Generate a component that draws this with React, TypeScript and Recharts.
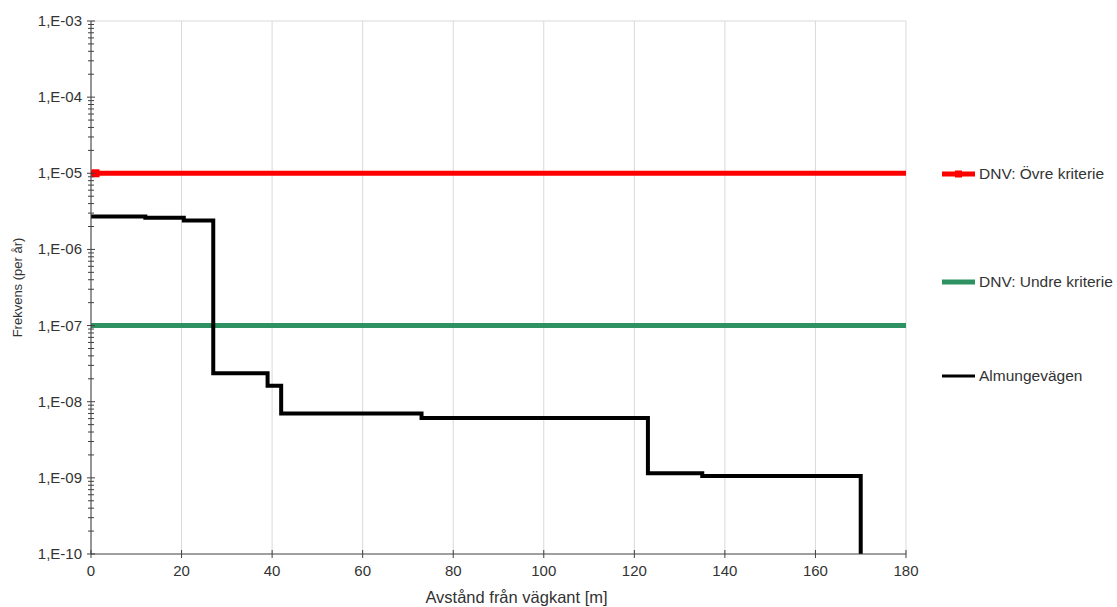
import { LineChart, Line, XAxis, YAxis, CartesianGrid, Legend, ReferenceLine } from "recharts";

// distance from road edge [m] and yearly frequency for the step curve
const stepX = [0, 12, 20.5, 27, 39, 42, 73, 123, 135, 170];
const stepY = [2.7e-6, 2.6e-6, 2.4e-6, 2.36e-8, 1.62e-8, 7.0e-9, 6.1e-9, 1.15e-9, 1.06e-9, 1e-10];

const upperX = [0, 1, 180];
const upperY = [1e-5, 1e-5, 1e-5];

const lowerX = [0, 180];
const lowerY = [1e-7, 1e-7];

const seriesNames = ["DNV: Övre kriterie", "DNV: Undre kriterie", "Almungevägen"];

const xTicks = [0, 20, 40, 60, 80, 100, 120, 140, 160, 180];
const yDecades = [1e-10, 1e-9, 1e-8, 1e-7, 1e-6, 1e-5, 1e-4, 1e-3];
const minorSteps = [2, 3, 4, 5, 6, 7, 8, 9];

const yTicks = [
  ...yDecades,
  ...yDecades.slice(0, -1).flatMap((d) => minorSteps.map((m) => m * d)),
].sort((a, b) => a - b);

const zip = (xs: number[], ys: number[]) => xs.map((x, i) => ({ x, y: ys[i] }));
const stepData = zip(stepX, stepY);
const upperData = zip(upperX, upperY);
const lowerData = zip(lowerX, lowerY);

const FONT = "'Liberation Sans', Arial, sans-serif";
const RED = "#ff0000";
const GREEN = "#2e9162";

const isDecade = (v: number) => yDecades.some((d) => Math.abs(d - v) / d < 1e-6);
const fmtSci = (v: number) => `1,E-${String(Math.round(-Math.log10(v))).padStart(2, "0")}`;

const YTick = ({ x, y, payload }: any) => {
  const major = isDecade(payload.value);
  return (
    <g>
      <line x1={x - (major ? 4 : 3)} x2={x + (major ? 4 : 3)} y1={y} y2={y} stroke="#404040" />
      {major && (
        <text x={x - 9} y={y + 5} textAnchor="end" fontSize={15} fill="#333" fontFamily={FONT}>
          {fmtSci(payload.value)}
        </text>
      )}
    </g>
  );
};

const XTick = ({ x, y, payload }: any) => (
  <g>
    <line x1={x} x2={x} y1={y - 4} y2={y + 4} stroke="#404040" />
    <text x={x} y={y + 22} textAnchor="middle" fontSize={15} fill="#333" fontFamily={FONT}>
      {payload.value}
    </text>
  </g>
);

const YLabel = ({ viewBox }: any) => {
  const cx = viewBox.x + 17;
  const cy = viewBox.y + viewBox.height / 2;
  return (
    <text x={cx} y={cy} transform={`rotate(-90 ${cx} ${cy})`} textAnchor="middle" dominantBaseline="central" fontSize={13} fill="#333" fontFamily={FONT}>
      Frekvens (per år)
    </text>
  );
};

const XLabel = ({ viewBox }: any) => (
  <text x={viewBox.x + viewBox.width / 2 + 18} y={viewBox.y + 49} textAnchor="middle" fontSize={16.5} fill="#333" fontFamily={FONT}>
    Avstånd från vägkant [m]
  </text>
);

const legendGaps = [0, 88, 74];

const LegendBox = ({ payload }: any) => {
  const items = [...(payload || [])].sort((a: any, b: any) => seriesNames.indexOf(a.value) - seriesNames.indexOf(b.value));
  return (
    <div style={{ fontFamily: FONT, fontSize: 15.5, color: "#333" }}>
      {items.map((p: any, i: number) => (
        <div key={p.value} style={{ height: 20, marginTop: legendGaps[i] ?? 0, display: "flex", alignItems: "center", whiteSpace: "nowrap" }}>
          <svg width={36} height={20}>
            <line x1={2} x2={35} y1={10} y2={10} stroke={p.color} strokeWidth={i === 2 ? 3 : 5} />
            {i === 0 && <rect x={15} y={6.5} width={7} height={7} fill={p.color} />}
          </svg>
          <span style={{ marginLeft: 3 }}>{p.value}</span>
        </div>
      ))}
    </div>
  );
};

const SquareDot = ({ cx, cy, index }: any) =>
  index === 1 ? <rect key={index} x={cx - 4} y={cy - 4} width={8} height={8} fill={RED} /> : <g key={index} />;

export default function App() {
  return (
    <div style={{ position: "absolute", left: 0, top: 0, background: "#fff" }}>
      <LineChart width={1117} height={607} margin={{ top: 21, right: 34, bottom: 0, left: 0 }}>
        <CartesianGrid horizontal={false} stroke="#d9d9d9" />
        <ReferenceLine y={1e-3} stroke="#d9d9d9" />
        <XAxis
          type="number"
          dataKey="x"
          domain={[0, 180]}
          ticks={xTicks}
          interval={0}
          height={53}
          tickSize={0}
          tickMargin={0}
          tick={<XTick />}
          stroke="#404040"
          label={<XLabel />}
        />
        <YAxis
          type="number"
          dataKey="y"
          scale="log"
          domain={[1e-10, 1e-3]}
          allowDataOverflow
          ticks={yTicks}
          interval={0}
          width={91}
          tickSize={0}
          tickMargin={0}
          tick={<YTick />}
          stroke="#404040"
          label={<YLabel />}
        />
        <Legend
          layout="vertical"
          align="right"
          verticalAlign="top"
          content={<LegendBox />}
          wrapperStyle={{ position: "absolute", left: 940, top: 164, width: 177 }}
        />
        <Line data={upperData} dataKey="y" name={seriesNames[0]} stroke={RED} strokeWidth={5} dot={<SquareDot />} isAnimationActive={false} />
        <Line data={lowerData} dataKey="y" name={seriesNames[1]} stroke={GREEN} strokeWidth={5} dot={false} isAnimationActive={false} />
        <Line data={stepData} dataKey="y" name={seriesNames[2]} type="stepAfter" stroke="#000" strokeWidth={4} dot={false} isAnimationActive={false} />
      </LineChart>
    </div>
  );
}
